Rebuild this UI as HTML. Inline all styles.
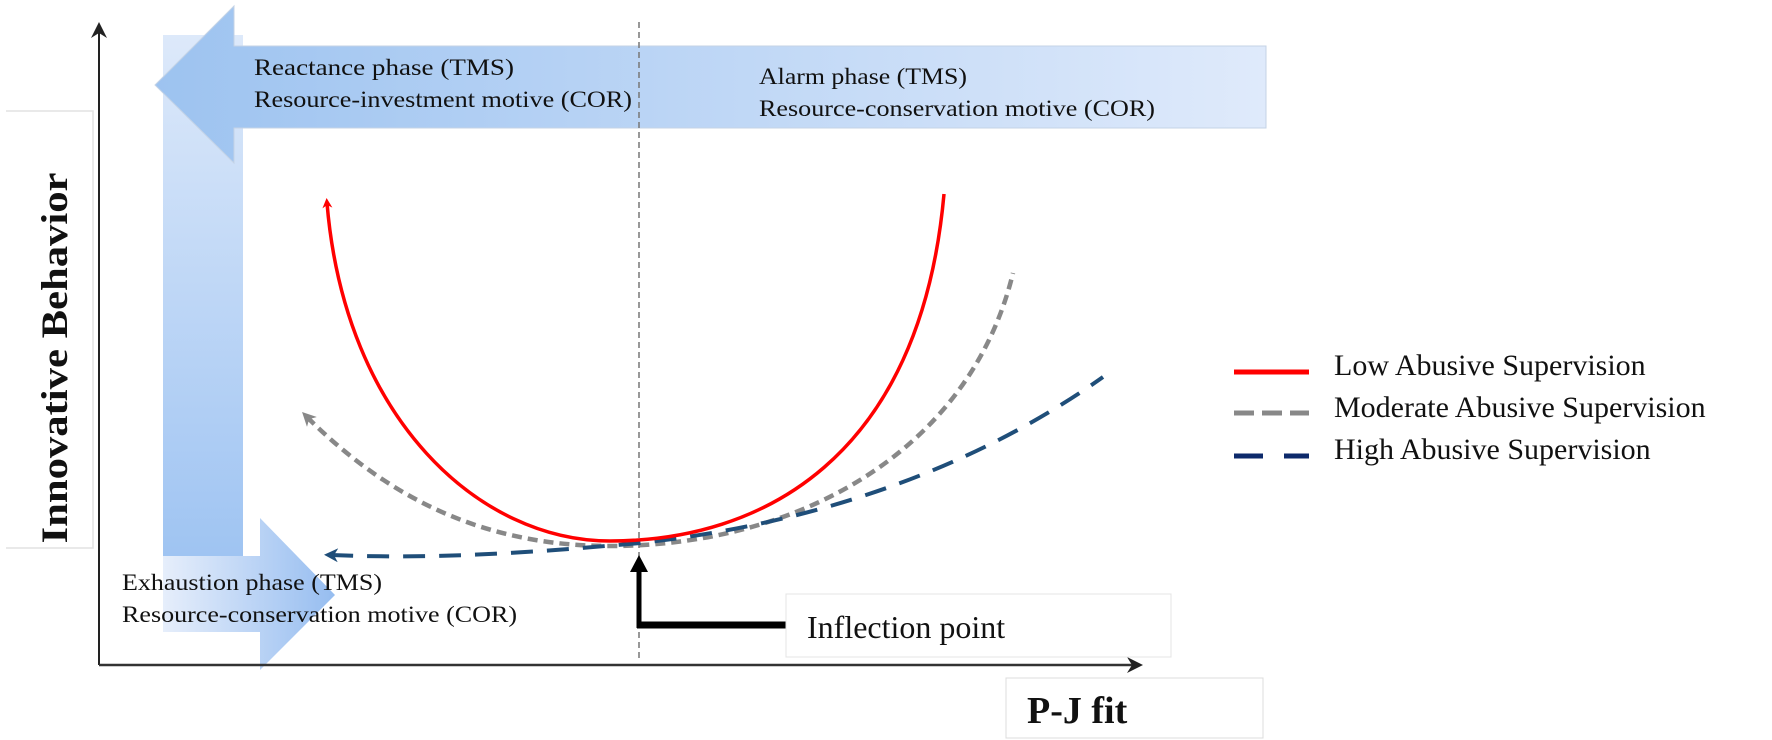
<!DOCTYPE html>
<html><head><meta charset="utf-8"><style>
html,body{margin:0;padding:0;background:#fff;}
svg{display:block;}
text{font-family:"Liberation Serif",serif;fill:#111;}
</style></head><body>
<svg width="1772" height="740" viewBox="0 0 1772 740" xmlns="http://www.w3.org/2000/svg">
<defs>
<linearGradient id="gv" x1="0" y1="0" x2="0" y2="1"><stop offset="0" stop-color="#dde9fa"/><stop offset="1" stop-color="#9fc4f2"/></linearGradient>
<linearGradient id="gt" x1="0" y1="0" x2="1" y2="0"><stop offset="0" stop-color="#9dc3f0"/><stop offset="1" stop-color="#dfeafb"/></linearGradient>
<linearGradient id="gr" x1="0" y1="0" x2="1" y2="0"><stop offset="0" stop-color="#e6eefb"/><stop offset="1" stop-color="#96bdf0"/></linearGradient>
<marker id="mr" markerWidth="10" markerHeight="10" refX="5" refY="5" orient="auto-start-reverse" markerUnits="userSpaceOnUse" viewBox="0 0 10 10"><path d="M0,0 L10,5 L0,10 L3,5 z" fill="#f00"/></marker>
<marker id="mg" markerWidth="14" markerHeight="14" refX="7" refY="7" orient="auto-start-reverse" markerUnits="userSpaceOnUse" viewBox="0 0 14 14"><path d="M0,0 L14,7 L0,14 L4,7 z" fill="#888"/></marker>
<marker id="mn" markerWidth="14" markerHeight="14" refX="7" refY="7" orient="auto-start-reverse" markerUnits="userSpaceOnUse" viewBox="0 0 14 14"><path d="M0,0 L14,7 L0,14 L4,7 z" fill="#1f4e79"/></marker>
</defs>
<!-- label box -->
<path d="M6,111 H93 V548 H6" fill="none" stroke="#e2e2e2" stroke-width="1.5"/>
<text transform="translate(67,358) rotate(-90)" text-anchor="middle" font-size="37" font-weight="bold" textLength="371" lengthAdjust="spacingAndGlyphs">Innovative Behavior</text>
<!-- big arrows -->
<rect x="163" y="35" width="80" height="521" fill="url(#gv)"/>
<path d="M234,6 L155,85 L234,163 L234,128 L1266,128 L1266,46 L234,46 Z" fill="url(#gt)" stroke="#c4d3e6" stroke-width="1"/>
<path d="M163,556 H260 V518 L335,595 L260,670 V632 H163 Z" fill="url(#gr)"/>
<!-- axes -->
<line x1="99" y1="665" x2="99" y2="30" stroke="#222" stroke-width="2"/>
<path d="M91,38 L99,22 L107,38 L99,33 Z" fill="#222"/>
<line x1="99" y1="665" x2="1135" y2="665" stroke="#333" stroke-width="2.5"/>
<path d="M1127,657 L1143,665 L1127,673 L1132,665 Z" fill="#222"/>
<line x1="639" y1="22" x2="639" y2="662" stroke="#777" stroke-width="1.5" stroke-dasharray="6 4"/>
<!-- texts in arrows -->
<text x="254" y="75" font-size="23" textLength="260" lengthAdjust="spacingAndGlyphs">Reactance phase (TMS)</text>
<text x="254" y="107" font-size="23" textLength="378" lengthAdjust="spacingAndGlyphs">Resource-investment motive (COR)</text>
<text x="759" y="84" font-size="23" textLength="208" lengthAdjust="spacingAndGlyphs">Alarm phase (TMS)</text>
<text x="759" y="116" font-size="23" textLength="396" lengthAdjust="spacingAndGlyphs">Resource-conservation motive (COR)</text>
<text x="122" y="590" font-size="23" textLength="260" lengthAdjust="spacingAndGlyphs">Exhaustion phase (TMS)</text>
<text x="122" y="622" font-size="23" textLength="395" lengthAdjust="spacingAndGlyphs">Resource-conservation motive (COR)</text>
<!-- curves -->
<path d="M307,417 C400,510 500,546 610,546 C800,546 970,450 1013,273" fill="none" stroke="#888" stroke-width="4.5" stroke-dasharray="10 6" marker-start="url(#mg)"/>
<path d="M331,555 C450,560 560,550 640,543 C850,520 1000,450 1103,377" fill="none" stroke="#1f4e79" stroke-width="4" stroke-dasharray="22 14" marker-start="url(#mn)"/>
<path d="M327,203 C345,420 480,541 610,541 C760,541 920,460 944,194" fill="none" stroke="#f00" stroke-width="3.5" marker-start="url(#mr)"/>
<!-- inflection -->
<line x1="639" y1="628" x2="639" y2="568" stroke="#000" stroke-width="5"/>
<path d="M630,572 L639,555 L648,572 Z" fill="#000"/>
<line x1="637" y1="625" x2="786" y2="625" stroke="#000" stroke-width="7"/>
<rect x="786" y="594" width="385" height="63" fill="#fff" stroke="#e4e4e4" stroke-width="1"/>
<text x="807" y="638" font-size="32">Inflection point</text>
<!-- P-J fit -->
<rect x="1006" y="678" width="257" height="60" fill="#fff" stroke="#dcdcdc" stroke-width="1"/>
<text x="1027" y="723" font-size="38" font-weight="bold">P-J fit</text>
<!-- legend -->
<line x1="1234" y1="372" x2="1309" y2="372" stroke="#f00" stroke-width="5"/>
<line x1="1234" y1="413" x2="1309" y2="413" stroke="#888" stroke-width="5" stroke-dasharray="20 8"/>
<line x1="1234" y1="456" x2="1309" y2="456" stroke="#0d2a6b" stroke-width="5" stroke-dasharray="29 21"/>
<text x="1334" y="375" font-size="30">Low Abusive Supervision</text>
<text x="1334" y="417" font-size="30">Moderate Abusive Supervision</text>
<text x="1334" y="459" font-size="30">High Abusive Supervision</text>
</svg>
</body></html>
